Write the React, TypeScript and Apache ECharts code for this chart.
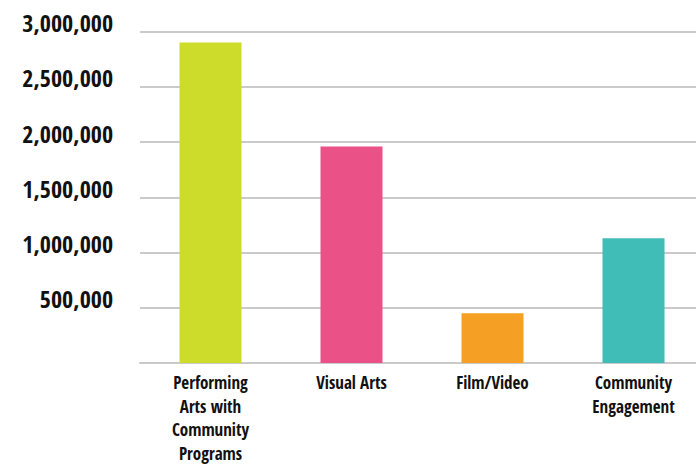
import React, { useEffect, useRef } from "react";
import * as echarts from "echarts";

const categories = [
  "Performing\nArts with\nCommunity\nPrograms",
  "Visual Arts",
  "Film/Video",
  "Community\nEngagement",
];
const values = [2900000, 1960000, 450000, 1130000];
const barColors = ["#cddc2a", "#e95187", "#f5a025", "#41bdb7"];
const yTicks = [0, 500000, 1000000, 1500000, 2000000, 2500000, 3000000];

const FONT = '"Open Sans Condensed", "Roboto Condensed", sans-serif';

export default function App() {
  const ref = useRef<HTMLDivElement>(null);
  useEffect(() => {
    if (!ref.current) return;
    const chart = echarts.init(ref.current, undefined, { renderer: "svg" });
    chart.setOption({
      animation: false,
      backgroundColor: "#ffffff",
      grid: {
        left: 140,
        top: 31.5,
        width: 564,
        height: 331.5,
        containLabel: false,
        outerBoundsMode: "none",
      },
      xAxis: {
        type: "category",
        data: categories,
        axisLine: { show: true, lineStyle: { color: "#cacaca", width: 2 } },
        axisTick: { show: false },
        axisLabel: {
          interval: 0,
          margin: 8,
          color: "#111111",
          fontFamily: FONT,
          fontWeight: "bold",
          fontSize: 17,
          lineHeight: 23.5,
        },
      },
      yAxis: {
        type: "value",
        min: yTicks[0],
        max: yTicks[yTicks.length - 1],
        interval: 500000,
        axisLine: { show: false },
        axisTick: { show: false },
        splitLine: { show: true, lineStyle: { color: "#cacaca", width: 2 } },
        axisLabel: {
          margin: 27,
          color: "#111111",
          fontFamily: FONT,
          fontWeight: "bold",
          fontSize: 24,
          lineHeight: 18,
          verticalAlign: "bottom",
          formatter: (v: number) => (v === 0 ? "" : v.toLocaleString("en-US")),
        },
      },
      series: [
        {
          type: "bar",
          barWidth: 62,
          data: values.map((v, i) => ({ value: v, itemStyle: { color: barColors[i] } })),
        },
      ],
    });
    return () => chart.dispose();
  }, []);
  return (
    <div style={{ position: "fixed", left: 0, top: 0, width: 696, height: 466, overflow: "hidden", background: "#fff" }}>
      <div ref={ref} style={{ width: 710, height: 466 }} />
    </div>
  );
}
